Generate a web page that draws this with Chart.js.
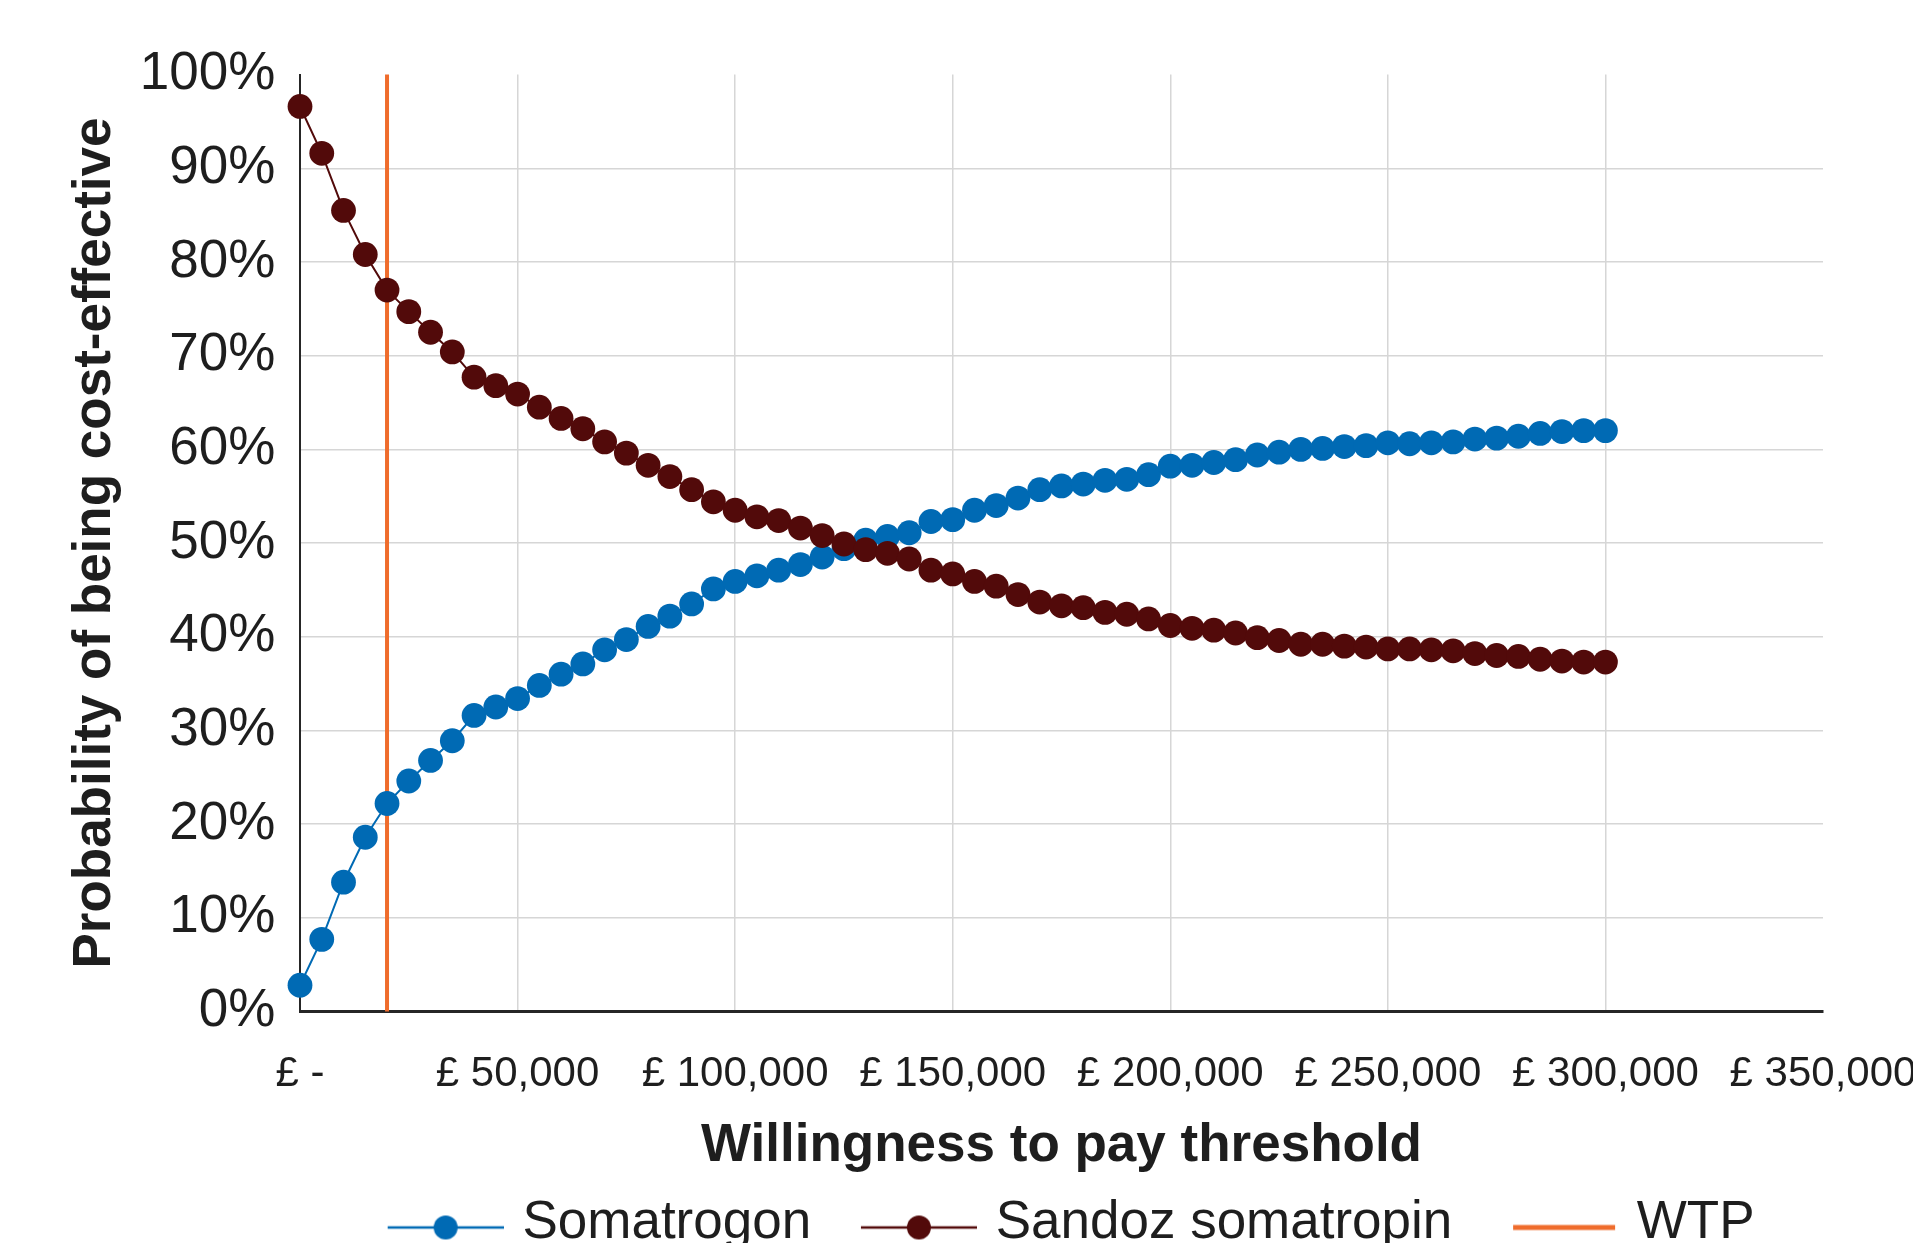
<!DOCTYPE html>
<html>
<head>
<meta charset="utf-8">
<script src="https://cdn.jsdelivr.net/npm/chart.js@4/dist/chart.umd.min.js"></script>
<style>
html,body{margin:0;padding:0;background:#ffffff;overflow:hidden;width:1913px;height:1243px}
canvas{display:block}
</style>
</head>
<body>
<canvas id="c" width="1913" height="1260"></canvas>
<script>
// ---------- data ----------
const thresholds = [0,5000,10000,15000,20000,25000,30000,35000,40000,45000,
  50000,55000,60000,65000,70000,75000,80000,85000,90000,95000,
  100000,105000,110000,115000,120000,125000,130000,135000,140000,145000,
  150000,155000,160000,165000,170000,175000,180000,185000,190000,195000,
  200000,205000,210000,215000,220000,225000,230000,235000,240000,245000,
  250000,255000,260000,265000,270000,275000,280000,285000,290000,295000,300000];

const somatrogon = [2.8,7.7,13.8,18.6,22.2,24.6,26.8,28.9,31.6,32.5,
  33.4,34.8,36.0,37.1,38.6,39.7,41.1,42.2,43.5,45.1,
  45.9,46.5,47.1,47.7,48.5,49.4,50.3,50.7,51.1,52.3,
  52.5,53.5,54.0,54.8,55.7,56.1,56.3,56.7,56.8,57.3,
  58.2,58.3,58.6,58.9,59.4,59.7,60.0,60.1,60.3,60.4,
  60.7,60.6,60.7,60.8,61.1,61.2,61.4,61.7,61.9,62.0,62.0];

const sandozSomatropin = [96.6,91.6,85.5,80.8,77.0,74.7,72.5,70.4,67.7,66.8,
  65.9,64.5,63.3,62.2,60.8,59.6,58.3,57.1,55.7,54.4,
  53.5,52.8,52.4,51.6,50.8,49.9,49.3,48.9,48.3,47.1,
  46.7,45.9,45.4,44.5,43.7,43.3,43.1,42.6,42.4,41.9,
  41.2,40.9,40.7,40.4,39.9,39.6,39.2,39.2,39.0,38.9,
  38.7,38.7,38.6,38.5,38.2,38.0,37.9,37.6,37.4,37.3,37.3];

const wtpThreshold = 20000;
const wtpRange = [0, 100];

const seriesNames = ['Somatrogon', 'Sandoz somatropin', 'WTP'];
const xTickLabels = ['£ -','£ 50,000','£ 100,000','£ 150,000','£ 200,000','£ 250,000','£ 300,000','£ 350,000'];
const yTickLabels = ['0%','10%','20%','30%','40%','50%','60%','70%','80%','90%','100%'];
const xTitle = 'Willingness to pay threshold';
const yTitle = 'Probability of being cost-effective';

// ---------- styles ----------
const BLUE = '#006ab4';
const MAROON = '#520a0a';
const ORANGE = '#ef6c2c';
const TEXT = '#1e1e1e';
const GRID = '#d6d6d6';
const FONT = "'Liberation Sans', Arial, Helvetica, sans-serif";

Chart.defaults.font.family = FONT;
Chart.defaults.color = TEXT;

function legendImage(color, lw, marker, x0, x1) {
  const c = document.createElement('canvas');
  c.width = 143; c.height = 40;
  const g = c.getContext('2d');
  g.strokeStyle = color; g.lineWidth = lw;
  g.beginPath(); g.moveTo(x0, 24); g.lineTo(x1, 24); g.stroke();
  if (marker) {
    g.fillStyle = color;
    g.beginPath(); g.arc((x0 + x1) / 2, 24, 12, 0, Math.PI * 2); g.fill();
  }
  return c;
}
const legendImgs = [
  legendImage(BLUE, 2.5, true, 27, 143),
  legendImage(MAROON, 2.5, true, 27, 143),
  legendImage(ORANGE, 5, false, 38, 140)
];

const somPts = thresholds.map((x, i) => ({x: x, y: somatrogon[i]}));
const sanPts = thresholds.map((x, i) => ({x: x, y: sandozSomatropin[i]}));
const wtpPts = wtpRange.map(v => ({x: wtpThreshold, y: v}));

new Chart(document.getElementById('c'), {
  type: 'line',
  data: {
    datasets: [
      {label: seriesNames[0], data: somPts, borderColor: BLUE, backgroundColor: BLUE,
       borderWidth: 2, pointRadius: 12.4, pointBorderWidth: 0, pointBackgroundColor: BLUE,
       pointHoverRadius: 12.4, order: 1, clip: false, tension: 0},
      {label: seriesNames[1], data: sanPts, borderColor: MAROON, backgroundColor: MAROON,
       borderWidth: 2, pointRadius: 12.4, pointBorderWidth: 0, pointBackgroundColor: MAROON,
       pointHoverRadius: 12.4, order: 0, clip: false, tension: 0},
      {label: seriesNames[2], data: wtpPts, borderColor: ORANGE, backgroundColor: ORANGE,
       borderWidth: 4, pointRadius: 0, pointHoverRadius: 0, order: 2, clip: false}
    ]
  },
  options: {
    responsive: false,
    animation: false,
    devicePixelRatio: 1,
    layout: {padding: {top: 74.6, right: 90, bottom: 0, left: 0}},
    plugins: {
      tooltip: {enabled: false},
      legend: {
        position: 'bottom',
        fullSize: false,
        align: 'center',
        labels: {
          usePointStyle: true,
          pointStyleWidth: 127.5,
          padding: 30.5,
          color: TEXT,
          font: {size: 53, family: FONT},
          generateLabels(chart) {
            const items = Chart.defaults.plugins.legend.labels.generateLabels(chart);
            items.forEach((it) => { it.pointStyle = legendImgs[it.datasetIndex]; });
            return items;
          },
          sort: (a, b) => a.datasetIndex - b.datasetIndex
        }
      }
    },
    scales: {
      x: {
        type: 'linear',
        min: 0, max: 350000,
        afterFit(s) { s.height = 155; s.paddingLeft = 0; s.paddingRight = 0; },
        ticks: {
          stepSize: 50000, autoSkip: false, maxRotation: 0, minRotation: 0,
          padding: 37.3, color: TEXT, font: {size: 42},
          callback: (v, i) => xTickLabels[i]
        },
        grid: {
          drawTicks: false, lineWidth: 1.5,
          color: (ctx) => (ctx.index === 0 || ctx.index === xTickLabels.length - 1) ? 'rgba(0,0,0,0)' : GRID
        },
        border: {display: true, color: '#262626', width: 3},
        title: {display: true, text: xTitle, color: TEXT,
          font: {size: 53, weight: 'bold'}, padding: {top: 0, bottom: -11.3}}
      },
      y: {
        type: 'linear',
        min: 0, max: 100,
        afterFit(s) { s.width = 300; s.paddingTop = 0; s.paddingBottom = 0; },
        ticks: {
          stepSize: 10, padding: 24.6, color: TEXT, font: {size: 53},
          callback: (v, i) => yTickLabels[i]
        },
        grid: {
          drawTicks: false, lineWidth: 1.5,
          color: (ctx) => (ctx.index === yTickLabels.length - 1) ? 'rgba(0,0,0,0)' : GRID
        },
        border: {display: true, color: '#262626', width: 2},
        title: {display: true, text: yTitle, color: TEXT,
          font: {size: 53, weight: 'bold'}, padding: {top: 63.5, bottom: 0}}
      }
    }
  }
});
</script>
</body>
</html>
